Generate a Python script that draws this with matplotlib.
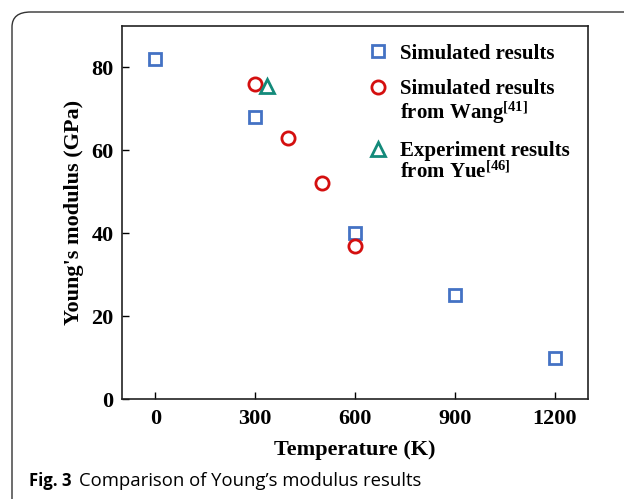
import matplotlib
matplotlib.use("Agg")
import matplotlib.pyplot as plt
from matplotlib.patches import FancyBboxPatch

# data
sim_T = [0, 300, 600, 900, 1200]
sim_E = [82, 68, 40, 25, 10]
wang_T = [300, 400, 500, 600]
wang_E = [76, 63, 52, 37]
yue_T = [335]
yue_E = [75.5]

x_ticks = [0, 300, 600, 900, 1200]
y_ticks = [0, 20, 40, 60, 80]

plt.rcParams['font.family'] = 'Liberation Serif'
plt.rcParams['font.weight'] = 'bold'
plt.rcParams['mathtext.fontset'] = 'custom'
plt.rcParams['mathtext.rm'] = 'Liberation Serif:bold'
plt.rcParams['mathtext.bf'] = 'Liberation Serif:bold'
plt.rcParams['mathtext.default'] = 'regular'

fig = plt.figure(figsize=(6.24, 4.99), dpi=100)

# rounded frame around the figure
frame = FancyBboxPatch((12 / 624, -0.05), 1.2, (499 - 12) / 499 + 0.05,
                       boxstyle="round,pad=0,rounding_size=0.03",
                       transform=fig.transFigure, fill=False,
                       edgecolor='#333333', linewidth=1.0)
fig.patches.append(frame)

ax = fig.add_axes([0.1955, 0.2004, 0.7465, 0.7476])

blue = '#4472c4'
red = '#d40f0f'
teal = '#138a7a'

ax.plot(sim_T, sim_E, 's', ms=8.5, mfc='none', mec=blue, mew=2.0,
        ls='none', label='Simulated results')
ax.plot(wang_T, wang_E, 'o', ms=9.5, mfc='none', mec=red, mew=2.0,
        ls='none', label='Simulated results\nfrom Wang$^{[41]}$')
ax.plot(yue_T, yue_E, '^', ms=10, mfc='none', mec=teal, mew=2.0,
        ls='none', label='Experiment results\nfrom Yue$^{[46]}$')

ax.set_xlim(-100, 1300)
ax.set_ylim(0, 90)
ax.set_xticks(x_ticks)
ax.set_yticks(y_ticks)
ax.tick_params(direction='in', length=5, width=1, labelsize=16)
ax.tick_params(axis='x', pad=7)
ax.tick_params(axis='y', pad=6)
for s in ax.spines.values():
    s.set_linewidth(1.2)
    s.set_color('#222222')

ax.set_xlabel('Temperature (K)', fontsize=16, fontweight='bold', labelpad=8)
ax.set_ylabel("Young's modulus (GPa)", fontsize=16, fontweight='bold', labelpad=5)

leg = ax.legend(loc='upper right', bbox_to_anchor=(1.0, 1.0), frameon=False,
                prop={'size': 15, 'weight': 'bold'}, handletextpad=0.55,
                handlelength=1.0, labelspacing=0.75, borderaxespad=0.45)
for t in leg.get_texts():
    t.set_linespacing(1.0)
# put the marker next to the first line of each label
for col in leg._legend_handle_box.get_children():
    for row in col.get_children():
        row.align = 'top'

# caption
fig.text(29 / 624, 13 / 499, 'Fig. 3', family='Open Sans',
         fontweight='bold', fontsize=12, va='baseline')
fig.text(79 / 624, 13 / 499, "Comparison of Young\u2019s modulus results",
         family='Open Sans', fontweight='normal', fontsize=13.3, va='baseline')

fig.savefig('out.png', dpi=100)
